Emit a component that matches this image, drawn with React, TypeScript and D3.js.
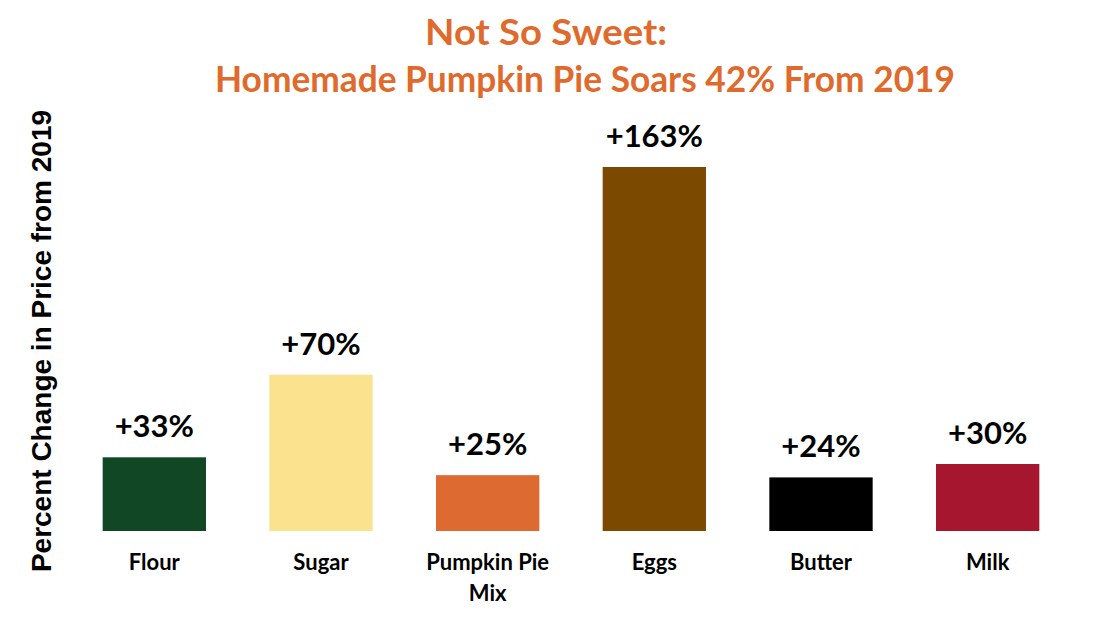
import React from 'react';
import * as d3 from 'd3';

const categories = ['Flour', 'Sugar', 'Pumpkin Pie Mix', 'Eggs', 'Butter', 'Milk'];
const changes = [33, 70, 25, 163, 24, 30];
const barColors = ['#124726', '#FBE28E', '#DD6B31', '#7B4A00', '#000000', '#A6162F'];
// category labels split over lines as in the original
const labelLines = [['Flour'], ['Sugar'], ['Pumpkin Pie', 'Mix'], ['Eggs'], ['Butter'], ['Milk']];

const titleLines = ['Not So Sweet:', 'Homemade Pumpkin Pie Soars 42% From 2019'];
const yTitle = 'Percent Change in Price from 2019';

const W = 1100;
const H = 625;
const baseY = 531;
const topY = 167;

export default function App() {
  const x = d3
    .scaleBand<string>()
    .domain(categories)
    .range([71, 1071])
    .paddingInner(0.38)
    .paddingOuter(0.19);

  const y = d3
    .scaleLinear()
    .domain([0, d3.max(changes) as number])
    .range([baseY, topY]);

  const font = 'Lato, "Open Sans", sans-serif';

  return (
    <svg width={W} height={H} style={{ display: 'block', position: 'absolute', left: 0, top: 0 }}>
      <rect x={0} y={0} width={W} height={H} fill="#ffffff" />

      {/* title */}
      <text
        x={546}
        y={45}
        textAnchor="middle"
        fontFamily={font}
        fontWeight={700}
        fontSize={36}
        fill="#E06A2C"
        textLength={242}
        lengthAdjust="spacingAndGlyphs"
      >
        {titleLines[0]}
      </text>
      <text
        x={585}
        y={92}
        textAnchor="middle"
        fontFamily={font}
        fontWeight={700}
        fontSize={36}
        fill="#E06A2C"
        textLength={740}
        lengthAdjust="spacingAndGlyphs"
      >
        {titleLines[1]}
      </text>

      {/* y axis title */}
      <text
        transform="translate(51,341) rotate(-90)"
        textAnchor="middle"
        fontFamily='"Liberation Sans", Arial, sans-serif'
        fontWeight={700}
        fontSize={28}
        fill="#000"
      >
        {yTitle}
      </text>

      {/* bars */}
      {categories.map((c, i) => (
        <rect
          key={c}
          x={x(c)}
          y={y(changes[i])}
          width={x.bandwidth()}
          height={baseY - y(changes[i])}
          fill={barColors[i]}
        />
      ))}

      {/* value labels */}
      {categories.map((c, i) => (
        <text
          key={c}
          x={(x(c) as number) + x.bandwidth() / 2}
          y={y(changes[i]) - 20}
          textAnchor="middle"
          fontFamily={font}
          fontWeight={700}
          fontSize={31}
          fill="#000"
        >
          {`+${changes[i]}%`}
        </text>
      ))}

      {/* category labels */}
      {categories.map((c, i) => (
        <text
          key={c}
          x={(x(c) as number) + x.bandwidth() / 2}
          y={570}
          textAnchor="middle"
          fontFamily={font}
          fontWeight={700}
          fontSize={22}
          fill="#000"
        >
          {labelLines[i].map((l, j) => (
            <tspan key={j} x={(x(c) as number) + x.bandwidth() / 2} dy={j === 0 ? 0 : 31}>
              {l}
            </tspan>
          ))}
        </text>
      ))}
    </svg>
  );
}
